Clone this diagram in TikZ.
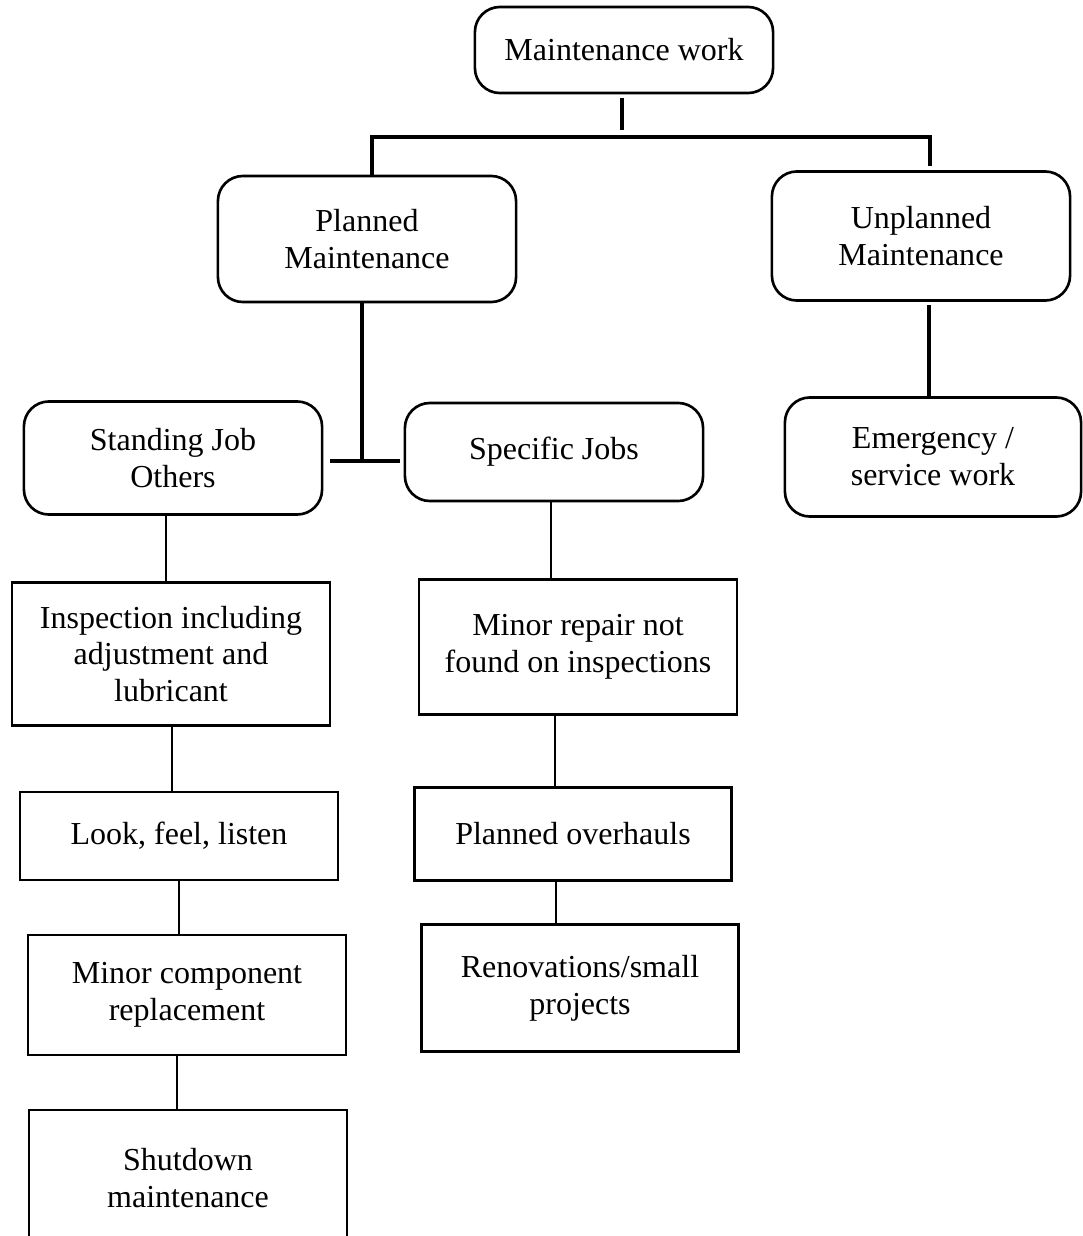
\documentclass[tikz,border=0pt]{standalone}
\usepackage{fontspec}
\setmainfont{Liberation Serif}
\begin{document}
\begin{tikzpicture}[x=0.01cm, y=-0.01cm,
    every node/.style={font=\fontsize{9.1}{10.5}\selectfont, align=center, inner sep=0pt},
    rbox/.style={rectangle, rounded corners=0.25cm, draw, line width=0.75pt, minimum width=2.98cm},
    sbox/.style={rectangle, draw, line width=0.75pt, minimum width=3.18cm},
    heavy/.style={line width=1.15pt},
    link/.style={line width=0.45pt},
  ]
  \useasboundingbox (0,0) rectangle (1083,1236);
  \clip (0,0) rectangle (1083,1236);
  % top levels
  \node[rbox, minimum height=0.86cm] (work) at (624, 50) {Maintenance work};
  \node[rbox, minimum height=1.26cm] (planned) at (367, 239) {Planned\\Maintenance};
  \node[rbox, minimum height=1.29cm] (unplanned) at (921, 236) {Unplanned\\Maintenance};
  \node[rbox, minimum height=1.13cm] (standing) at (173, 458) {Standing Job\\Others};
  \node[rbox, minimum height=0.98cm] (specific) at (554, 452) {Specific Jobs};
  \node[rbox, minimum height=1.19cm, minimum width=2.96cm] (emergency) at (933, 457) {Emergency /\\service work};
  % left column
  \node[sbox, minimum height=1.43cm] (inspect) at (171, 654) {Inspection including\\adjustment and\\lubricant};
  \node[sbox, minimum height=0.88cm] (look) at (179, 836) {Look, feel, listen};
  \node[sbox, minimum height=1.20cm] (component) at (187, 995) {Minor component\\replacement};
  \node[sbox, minimum height=1.36cm] (shutdown) at (188, 1178) {Shutdown\\maintenance};
  % middle column
  \node[sbox, minimum height=1.35cm] (repair) at (578, 647) {Minor repair not\\found on inspections};
  \node[sbox, minimum height=0.93cm, minimum width=3.17cm] (overhaul) at (573, 834) {Planned overhauls};
  \node[sbox, minimum height=1.27cm, minimum width=3.17cm] (renov) at (580, 988) {Renovations/small\\projects};
  % thick connectors
  \coordinate (w1) at (622, 98);
  \coordinate (w2) at (622, 130);
  \coordinate (bl) at (372, 137);
  \coordinate (br) at (930, 137);
  \coordinate (br2) at (930, 166);
  \draw[heavy] (w1) -- (w2);
  \draw[heavy] (bl |- planned.north) -- (bl) -- (br) -- (br2);
  \coordinate (pj) at (362, 461);
  \coordinate (pjl) at (330, 461);
  \coordinate (pjr) at (400, 461);
  \draw[heavy] (pj |- planned.south) -- (pj);
  \draw[heavy] (pjl) -- (pjr);
  \coordinate (ue) at (929, 305);
  \draw[heavy] (ue) -- (ue |- emergency.north);
  % thin connectors
  \draw[link] (standing.south -| 166,0) -- (inspect.north -| 166,0);
  \draw[link] (inspect.south -| 172,0) -- (look.north -| 172,0);
  \draw[link] (look.south -| 179,0) -- (component.north -| 179,0);
  \draw[link] (component.south -| 177,0) -- (shutdown.north -| 177,0);
  \draw[link] (specific.south -| 551,0) -- (repair.north -| 551,0);
  \draw[link] (repair.south -| 555,0) -- (overhaul.north -| 555,0);
  \draw[link] (overhaul.south -| 556,0) -- (renov.north -| 556,0);
\end{tikzpicture}
\end{document}
